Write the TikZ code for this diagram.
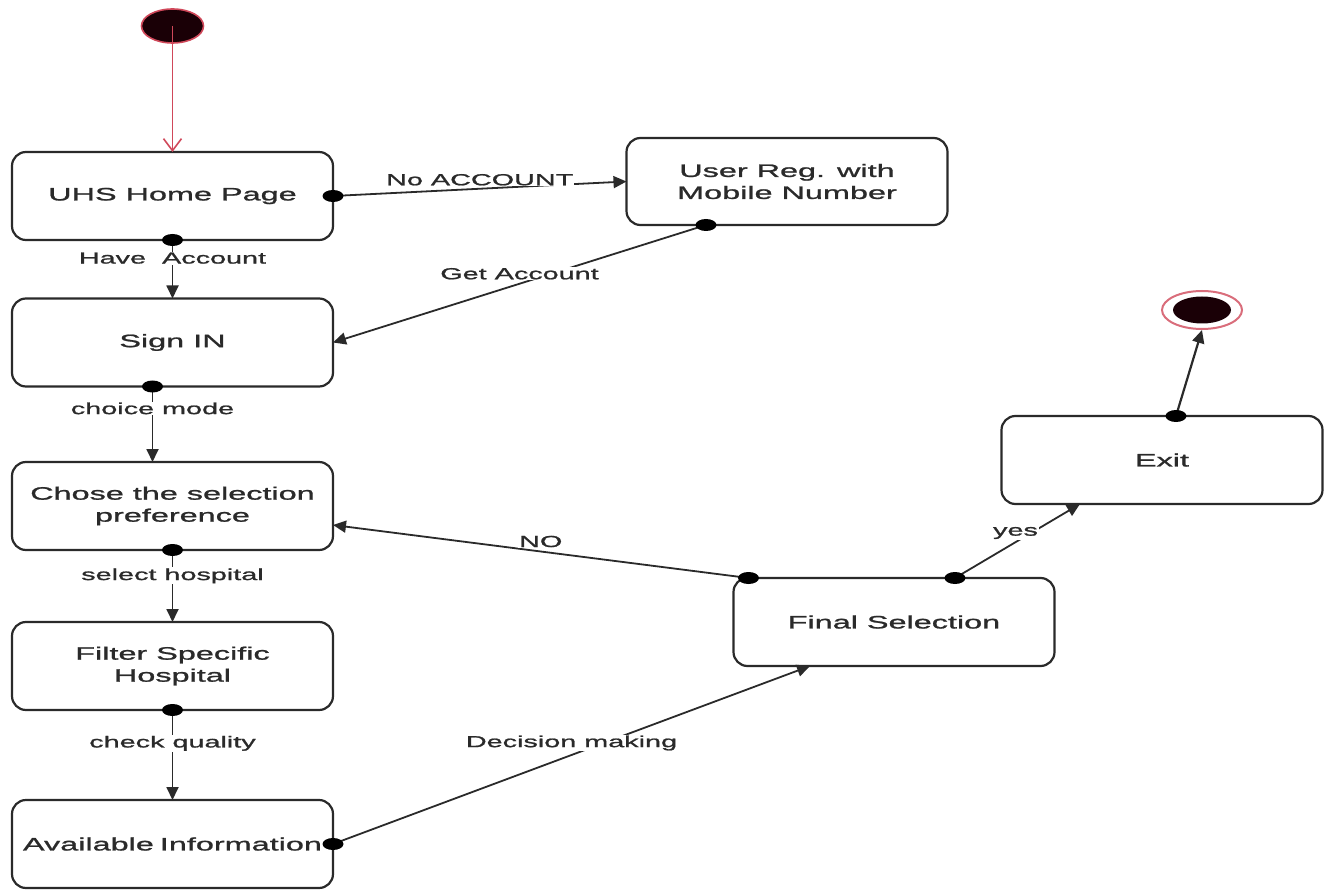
\documentclass[tikz,border=0pt]{standalone}
\usepackage{fontspec}
\setmainfont[FakeStretch=1.8,FakeBold=1.2]{Liberation Sans}
\usetikzlibrary{arrows.meta,shapes.geometric}
\definecolor{ink}{HTML}{2A2A2A}
\definecolor{startred}{HTML}{D0485A}
\definecolor{blobfill}{HTML}{1A0006}

\begin{document}
\begin{tikzpicture}[x=1pt,y=-1pt,
  state/.style={draw=ink, line width=2.2pt, rounded corners=14pt, fill=white,
    minimum width=321pt, minimum height=88pt, align=center,
    font=\fontsize{18}{22}\selectfont, text=ink, inner sep=0pt, outer sep=0pt},
  flow/.style={draw=ink, line width=1.8pt, -{Triangle[length=13pt,width=12pt]}},
  dot/.style={ellipse, fill=black, minimum width=21pt, minimum height=12pt, inner sep=0pt},
  lbl/.style={fill=white, inner sep=1pt, font=\fontsize{16}{19}\selectfont, text=ink}]

\useasboundingbox (0,0) rectangle (1325,890);

% initial and final pseudo-states
\node[ellipse, fill=blobfill, draw=startred, line width=1.6pt,
      minimum width=62pt, minimum height=34pt] (start) at (172.5,26) {};
\node[ellipse, draw=startred!80, line width=2pt,
      minimum width=80pt, minimum height=38pt] (endring) at (1202,310) {};
\node[ellipse, fill=blobfill, minimum width=58pt, minimum height=27pt] (endcore) at (1202,310) {};

% states
\node[state] (uhs)    at (172.5,196)   {UHS Home Page};
\node[state, minimum height=87pt] (reg) at (787,181.5) {User Reg. with\\Mobile Number};
\node[state] (sign)   at (172.5,342.5) {Sign IN};
\node[state] (chose)  at (172.5,506)   {Chose the selection\\preference};
\node[state] (filter) at (172.5,666)   {Filter Specific\\Hospital};
\node[state, text width=321pt] (avail) at (172.5,844) {Available Information};
\node[state] (final)  at (894,622)     {Final Selection};
\node[state] (exit)   at (1162,460)    {Exit};

% transition sources
\coordinate (sUhsR)   at (uhs.east);
\coordinate (sUhsB)   at (uhs.south);
\coordinate (sReg)    at ([xshift=-81pt]reg.south);
\coordinate (sSign)   at ([xshift=-20pt]sign.south);
\coordinate (sChose)  at (chose.south);
\coordinate (sFilter) at (filter.south);
\coordinate (sAvail)  at (avail.east);
\coordinate (sFinL)   at ([xshift=15pt]final.north west);
\coordinate (sFinR)   at ([xshift=61pt]final.north);
\coordinate (sExit)   at ([xshift=14pt]exit.north);

% initial transition
\draw[startred, line width=1.6pt, -{Straight Barb[length=12pt,width=18pt]}]
  (start.center) -- (uhs.north);

% transitions
\draw[flow] (sUhsR) -- (reg.west)
  node[lbl, pos=0.5, yshift=9pt] {No ACCOUNT};
\draw[flow] (sUhsB) -- (sign.north)
  node[lbl, pos=0.31] {Have~ Account};
\draw[flow] (sReg) -- (sign.east)
  node[lbl, pos=0.5, yshift=10pt] {Get Account};
\draw[flow] (sSign) -- ([xshift=-20pt]chose.north)
  node[lbl, pos=0.29] {choice mode};
\draw[flow] (sChose) -- (filter.north)
  node[lbl, pos=0.36] {select hospital};
\draw[flow] (sFilter) -- (avail.north)
  node[lbl, pos=0.37] {check quality};
\draw[flow] (sAvail) -- ([xshift=-84pt]final.south)
  node[lbl, pos=0.5, yshift=12pt] {Decision making};
\draw[flow] (sFinL) -- ([yshift=-19pt]chose.east)
  node[lbl, pos=0.5, yshift=10pt] {NO};
\draw[flow] (sFinR) -- ([xshift=-82pt]exit.south)
  node[lbl, pos=0.5, yshift=8pt, xshift=-2pt] {yes};
\draw[flow, line width=2.2pt] (sExit) -- (endring.south);

% transition source markers
\node[dot] (dUhsR)   at (sUhsR) {};
\node[dot] (dUhsB)   at (sUhsB) {};
\node[dot] (dReg)    at (sReg) {};
\node[dot] (dSign)   at (sSign) {};
\node[dot] (dChose)  at (sChose) {};
\node[dot] (dFilter) at (sFilter) {};
\node[dot] (dAvail)  at (sAvail) {};
\node[dot] (dFinL)   at (sFinL) {};
\node[dot] (dFinR)   at (sFinR) {};
\node[dot] (dExit)   at (sExit) {};
\end{tikzpicture}
\end{document}
